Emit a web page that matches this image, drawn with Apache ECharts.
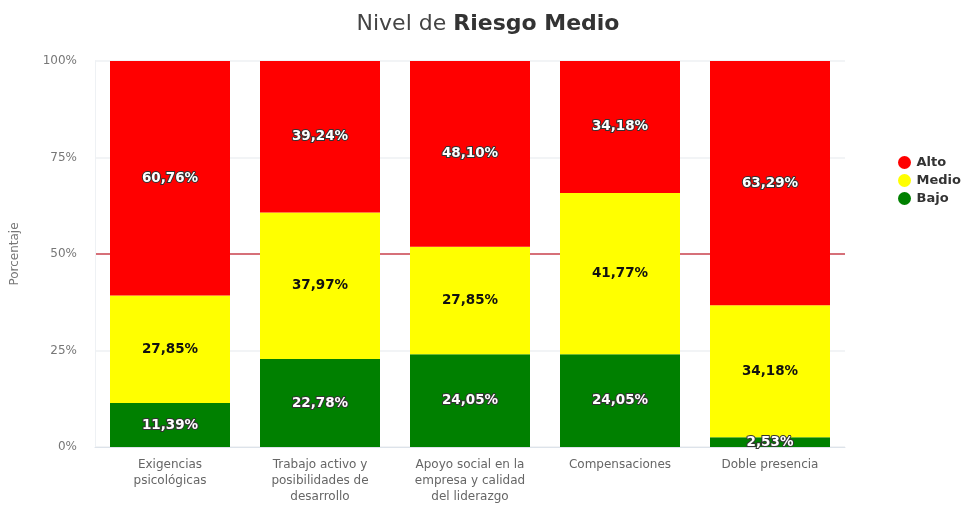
<!DOCTYPE html>
<html><head><meta charset="utf-8">
<script src="https://cdn.jsdelivr.net/npm/echarts@6/dist/echarts.min.js"></script>
<style>html,body{margin:0;padding:0;background:#fff}#c{width:976px;height:505px}</style>
</head><body><div id="c"></div>
<script>
const categories = ['Exigencias\npsicológicas','Trabajo activo y\nposibilidades de\ndesarrollo','Apoyo social en la\nempresa y calidad\ndel liderazgo','Compensaciones','Doble presencia'];
const bajo  = [11.39, 22.78, 24.05, 24.05, 2.53];
const medio = [27.85, 37.97, 27.85, 41.77, 34.18];
const alto  = [60.76, 39.24, 48.10, 34.18, 63.29];
const yTicks = [0, 25, 50, 75, 100];
const refLine = 50;
const font = 'DejaVu Sans';
const fmt = p => p.value.toFixed(2).replace('.', ',') + '%';
const chart = echarts.init(document.getElementById('c'));
function mk(name, data, color, light){
  return {
    name, type:'bar', stack:'t', data, barWidth:'80%',
    itemStyle:{color},
    label:{show:true, position:'inside', formatter:fmt, fontFamily:font, fontWeight:'bold', fontSize:13.5,
      color: light ? '#fff' : '#111', textBorderColor: light ? '#333' : 'transparent', textBorderWidth: light ? 2 : 0},
  };
}
const splitColors = yTicks.map(v => v === refLine ? '#c8404c' : '#eef0f3');
chart.setOption({
  animation:false,
  textStyle:{fontFamily:font},
  title:{left:'center', top:8, text:'{a|Nivel de }{b|Riesgo Medio}',
    textStyle:{rich:{a:{fontFamily:font, fontSize:22, fontWeight:'normal', color:'#444'}, b:{fontFamily:font, fontSize:22, fontWeight:'bold', color:'#333'}}}},
  legend:{orient:'vertical', left:893, top:151, itemGap:5, icon:'circle', itemWidth:14, itemHeight:13,
    data:['Alto','Medio','Bajo'], textStyle:{fontFamily:font, fontWeight:'bold', fontSize:13, color:'#333'}},
  grid:{left:95, right:131, top:61, bottom:56},
  xAxis:{type:'category', data:categories,
    axisLine:{lineStyle:{color:'#dde3ea'}}, axisTick:{lineStyle:{color:'#dde3ea'}},
    axisLabel:{fontFamily:font, fontSize:12, color:'#666', lineHeight:16, margin:10}},
  yAxis:{type:'value', min:0, max:100, interval:25, name:'Porcentaje', nameLocation:'middle', nameGap:74,
    nameTextStyle:{fontFamily:font, fontSize:12, color:'#777'},
    axisLine:{show:true, lineStyle:{color:'#eef1f4'}},
    axisLabel:{fontFamily:font, fontSize:12, color:'#777', margin:18, formatter:v => yTicks.includes(v) ? v + '%' : ''},
    splitLine:{lineStyle:{color:splitColors, width:1.5}}},
  series:[
    mk('Bajo', bajo, '#008000', true),
    mk('Medio', medio, '#ffff00', false),
    mk('Alto', alto, '#ff0000', true)
  ]
});
</script></body></html>
